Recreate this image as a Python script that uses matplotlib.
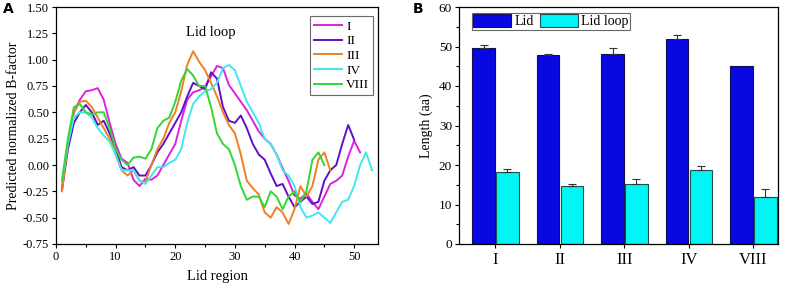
import matplotlib
matplotlib.use("Agg")
import matplotlib.pyplot as plt
from matplotlib.ticker import MultipleLocator

plt.rcParams['font.family'] = ['Liberation Serif', 'DejaVu Serif']

# ---------------- Panel A data ----------------
x_I = list(range(1, 52))
y_I = [-0.22, 0.20, 0.50, 0.62, 0.70, 0.71, 0.73, 0.62, 0.40, 0.20, 0.06, 0.02, -0.14, -0.20, -0.13, -0.14,
       -0.10, 0.00, 0.10, 0.20, 0.42, 0.62, 0.69, 0.71, 0.74, 0.84, 0.94, 0.92, 0.76, 0.68, 0.60, 0.52,
       0.42, 0.32, 0.25, 0.20, 0.10, -0.03, -0.15, -0.29, -0.32, -0.27, -0.35, -0.42, -0.30, -0.18, -0.15,
       -0.10, 0.08, 0.23, 0.12]

x_II = list(range(1, 51))
y_II = [-0.24, 0.15, 0.40, 0.50, 0.57, 0.50, 0.38, 0.42, 0.30, 0.15, -0.02, -0.05, -0.02, -0.10, -0.10,
        0.00, 0.12, 0.20, 0.30, 0.40, 0.50, 0.65, 0.78, 0.75, 0.72, 0.88, 0.82, 0.55, 0.42, 0.40, 0.47,
        0.35, 0.20, 0.10, 0.05, -0.08, -0.20, -0.18, -0.30, -0.40, -0.35, -0.30, -0.37, -0.35, -0.15,
        -0.05, 0.00, 0.20, 0.38, 0.24]

x_III = list(range(1, 47))
y_III = [-0.25, 0.20, 0.50, 0.60, 0.61, 0.55, 0.45, 0.35, 0.25, 0.10, -0.05, -0.10, -0.05, -0.15, -0.16,
         0.00, 0.15, 0.25, 0.40, 0.50, 0.70, 0.95, 1.08, 0.98, 0.90, 0.78, 0.65, 0.50, 0.38, 0.30, 0.10,
         -0.15, -0.22, -0.28, -0.45, -0.50, -0.40, -0.45, -0.56, -0.42, -0.20, -0.30, -0.20, 0.05, 0.12,
         -0.05]

x_IV = list(range(1, 54))
y_IV = [-0.15, 0.20, 0.45, 0.50, 0.50, 0.45, 0.35, 0.28, 0.22, 0.10, -0.05, -0.05, -0.05, -0.15, -0.18,
        -0.10, -0.02, -0.02, 0.02, 0.05, 0.15, 0.40, 0.58, 0.65, 0.70, 0.72, 0.78, 0.92, 0.95, 0.90,
        0.75, 0.60, 0.50, 0.40, 0.25, 0.20, 0.10, -0.05, -0.10, -0.20, -0.40, -0.50, -0.48, -0.45, -0.50,
        -0.55, -0.45, -0.35, -0.33, -0.20, 0.00, 0.12, -0.05]

x_VIII = list(range(1, 46))
y_VIII = [-0.15, 0.25, 0.55, 0.58, 0.50, 0.48, 0.50, 0.50, 0.35, 0.15, 0.05, 0.00, 0.07, 0.08, 0.06,
          0.15, 0.35, 0.42, 0.45, 0.60, 0.80, 0.91, 0.85, 0.75, 0.75, 0.55, 0.30, 0.20, 0.15, 0.00, -0.20,
          -0.33, -0.30, -0.30, -0.40, -0.25, -0.30, -0.42, -0.30, -0.25, -0.35, -0.25, 0.05, 0.12, 0.00]

series_names = ['I', 'II', 'III', 'IV', 'VIII']
series_x = [x_I, x_II, x_III, x_IV, x_VIII]
series_y = [y_I, y_II, y_III, y_IV, y_VIII]
line_colors = ['#e020e0', '#6010c8', '#f08020', '#40e8f0', '#30d830']

# ---------------- Panel B data ----------------
groups = ['I', 'II', 'III', 'IV', 'VIII']
lid = [49.6, 47.8, 48.2, 52.0, 45.0]
lid_err = [0.9, 0.4, 1.3, 0.8, 0.0]
loop = [18.2, 14.8, 15.2, 18.8, 12.0]
loop_err = [0.7, 0.5, 1.3, 1.0, 1.9]

fig = plt.figure(figsize=(7.87, 2.87), dpi=100)

# ---- Panel A ----
axA = fig.add_axes([56/787, 43/287, (378-56)/787, (244-7)/287])
for xs, ys, c, n in zip(series_x, series_y, line_colors, series_names):
    axA.plot(xs, ys, color=c, lw=1.4, label=n, solid_joinstyle='round')
axA.set_xlim(0, 54)
axA.set_ylim(-0.75, 1.5)
axA.xaxis.set_major_locator(MultipleLocator(10))
axA.xaxis.set_minor_locator(MultipleLocator(5))
axA.set_yticks([-0.75, -0.5, -0.25, 0, 0.25, 0.5, 0.75, 1.0, 1.25, 1.5])
axA.set_yticklabels(['%.2f' % v for v in axA.get_yticks()])
axA.tick_params(direction='out', length=3, width=0.8, labelsize=9, pad=2)
axA.tick_params(which='minor', direction='out', length=2, width=0.8)
axA.set_xlabel('Lid region', fontsize=10.5, labelpad=5)
axA.set_ylabel('Predicted normalized B-factor', fontsize=10, labelpad=2)
axA.text(26, 1.255, 'Lid loop', fontsize=10.5, ha='center', va='center')
legA = axA.legend(loc='upper right', bbox_to_anchor=(0.985, 0.96), fontsize=9.5, frameon=True,
                  fancybox=False, edgecolor='#444444', handlelength=2.1, handletextpad=0.3,
                  labelspacing=0.18, borderpad=0.3, borderaxespad=0)
legA.get_frame().set_linewidth(0.8)
for s in axA.spines.values():
    s.set_linewidth(0.9)

# ---- Panel B ----
axB = fig.add_axes([459/787, 43/287, (778-459)/787, (244-7)/287])
pos = list(range(1, len(groups) + 1))
w = 0.35
lid_x = [p - 0.185 for p in pos]
loop_x = [p + 0.185 for p in pos]
axB.bar(lid_x, lid, width=w, color='#0808e0', edgecolor='#101050', linewidth=0.8, label='Lid')
axB.bar(loop_x, loop, width=w, color='#00f5f5', edgecolor='#205050', linewidth=0.8, label='Lid loop')
for xs, vals, errs in [(lid_x, lid, lid_err), (loop_x, loop, loop_err)]:
    for xv, v, e in zip(xs, vals, errs):
        if e > 0:
            axB.errorbar(xv, v, yerr=[[0], [e]], fmt='none', ecolor='#333333', elinewidth=0.8,
                         capsize=3, capthick=0.8)
axB.set_xlim(0.435, 5.38)
axB.set_ylim(0, 60)
axB.set_xticks(pos)
axB.set_xticklabels(groups)
axB.yaxis.set_major_locator(MultipleLocator(10))
axB.yaxis.set_minor_locator(MultipleLocator(5))
axB.tick_params(axis='y', direction='out', length=3, width=0.8, labelsize=9.5, pad=2)
axB.tick_params(axis='y', which='minor', direction='out', length=2, width=0.8)
axB.tick_params(axis='x', direction='out', length=3, width=0.8, labelsize=12, pad=3)
axB.set_ylabel('Length (aa)', fontsize=10, labelpad=4)
legB = axB.legend(loc='upper left', bbox_to_anchor=(0.04, 0.975), ncol=2, fontsize=10, frameon=True,
                  fancybox=False, edgecolor='#444444', handlelength=2.7, handleheight=1.0,
                  handletextpad=0.25, columnspacing=0.5, borderpad=0.1, borderaxespad=0)
legB.get_frame().set_linewidth(0.8)
for s in axB.spines.values():
    s.set_linewidth(0.9)

fig.text(3/787, 1 - 9/287, 'A', fontsize=10, fontweight='bold', family='DejaVu Sans', va='center')
fig.text(413/787, 1 - 9/287, 'B', fontsize=10, fontweight='bold', family='DejaVu Sans', va='center')

fig.savefig('out.png', dpi=100)
